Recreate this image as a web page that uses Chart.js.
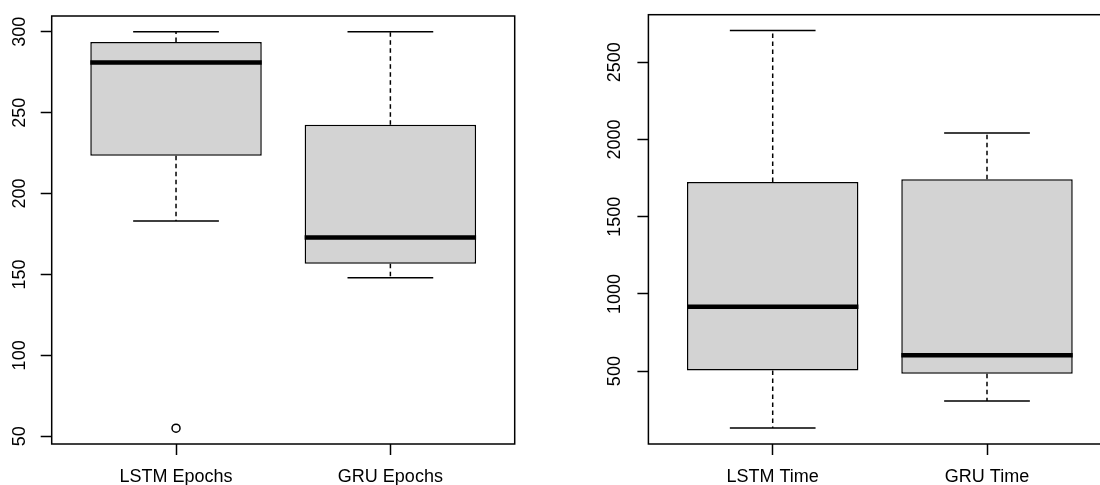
<!DOCTYPE html>
<html>
<head>
<meta charset="utf-8">
<script src="https://cdn.jsdelivr.net/npm/chart.js@4.4.1/dist/chart.umd.min.js"></script>
<style>
  html, body { margin: 0; padding: 0; background: #fff; overflow: hidden; }
  #wrap { position: relative; width: 1100px; height: 485px; overflow: hidden; }
  canvas { position: absolute; top: 0; }
  #epochChart { left: 0; }
  #timeChart { left: 550px; }
</style>
</head>
<body>
<div id="wrap">
  <canvas id="epochChart" width="550" height="485"></canvas>
  <canvas id="timeChart" width="600" height="485"></canvas>
</div>
<script>
// ---- data ----
const EPOCH_LABELS = ["LSTM Epochs", "GRU Epochs"];
const EPOCH_MIN = [183, 148];
const EPOCH_Q1 = [223.4, 156.6];
const EPOCH_MEDIAN = [281, 172.8];
const EPOCH_Q3 = [293.8, 242.5];
const EPOCH_MAX = [300, 300];
const EPOCH_OUTLIERS = [[55], []];
const EPOCH_TICKS = [50, 100, 150, 200, 250, 300];

const TIME_LABELS = ["LSTM Time", "GRU Time"];
const TIME_MIN = [131, 306];
const TIME_Q1 = [504, 483];
const TIME_MEDIAN = [917, 602];
const TIME_Q3 = [1725, 1742];
const TIME_MAX = [2705, 2042];
const TIME_OUTLIERS = [[], []];
const TIME_TICKS = [500, 1000, 1500, 2000, 2500];

// ---- style ----
const FONT = { family: '"Liberation Sans", Arial, Helvetica, sans-serif', size: 18 };
const BOX_FILL = "#d3d3d3";
const INK = "#000000";
const BOX_HALF = 0.4;     // boxwex 0.8
const STAPLE_HALF = 0.2;  // staple is half the box width

// R-style frame around the plot region
const framePlugin = {
  id: "frame",
  afterDatasetsDraw(chart) {
    const { ctx, chartArea: a } = chart;
    ctx.save();
    ctx.strokeStyle = INK;
    ctx.lineWidth = 1.5;
    ctx.strokeRect(a.left, a.top, a.right - a.left, a.bottom - a.top);
    ctx.restore();
  }
};

function buildBoxDatasets(mins, q1s, medians, q3s, maxs, outliers) {
  const boxes = [];
  const whiskers = [];
  const staples = [];
  const medianLines = [];
  const points = [];

  mins.forEach((_, i) => {
    const x = i + 1;
    boxes.push({ x, y: [q1s[i], q3s[i]] });
    whiskers.push(
      { x, y: q3s[i] }, { x, y: maxs[i] }, { x, y: null },
      { x, y: q1s[i] }, { x, y: mins[i] }, { x, y: null }
    );
    staples.push(
      { x: x - STAPLE_HALF, y: maxs[i] }, { x: x + STAPLE_HALF, y: maxs[i] }, { x, y: null },
      { x: x - STAPLE_HALF, y: mins[i] }, { x: x + STAPLE_HALF, y: mins[i] }, { x, y: null }
    );
    medianLines.push(
      { x: x - BOX_HALF, y: medians[i] }, { x: x + BOX_HALF, y: medians[i] }, { x, y: null }
    );
    outliers[i].forEach((v) => points.push({ x, y: v }));
  });

  const lineBase = { type: "line", pointRadius: 0, tension: 0, spanGaps: false, borderColor: INK, order: 1 };

  return [
    {
      type: "bar",
      data: boxes,
      backgroundColor: BOX_FILL,
      borderColor: INK,
      borderWidth: 1.5,
      borderSkipped: false,
      barPercentage: 1,
      categoryPercentage: 2 * BOX_HALF,
      order: 3
    },
    { ...lineBase, data: whiskers, borderWidth: 1.5, borderDash: [4.5, 3.5] },
    { ...lineBase, data: staples, borderWidth: 1.5 },
    { ...lineBase, data: medianLines, borderWidth: 4.5, borderCapStyle: "butt" },
    {
      type: "scatter",
      data: points,
      pointStyle: "circle",
      pointRadius: 4,
      pointBorderWidth: 1.5,
      pointBorderColor: INK,
      pointBackgroundColor: "rgba(0,0,0,0)",
      order: 0
    }
  ];
}

function renderBoxChart(canvasId, labels, mins, q1s, medians, q3s, maxs, outliers, yTicks, geom) {
  // R pads both ranges by 4%
  const allValues = mins.concat(maxs, ...outliers);
  const lo = Math.min(...allValues);
  const hi = Math.max(...allValues);
  const yPad = 0.04 * (hi - lo);
  const xLo = 0.5;
  const xHi = labels.length + 0.5;
  const xPad = 0.04 * (xHi - xLo);

  const tickGrid = {
    offset: false,
    drawOnChartArea: false,
    drawTicks: true,
    tickLength: 11,
    tickColor: INK,
    tickWidth: 1.5
  };

  return new Chart(document.getElementById(canvasId).getContext("2d"), {
    type: "bar",
    data: { datasets: buildBoxDatasets(mins, q1s, medians, q3s, maxs, outliers) },
    plugins: [framePlugin],
    options: {
      responsive: false,
      animation: false,
      events: [],
      layout: { padding: { top: geom.top, right: geom.right, left: 0, bottom: 0 } },
      scales: {
        x: {
          type: "linear",
          offset: false,
          min: xLo - xPad,
          max: xHi + xPad,
          afterBuildTicks: (scale) => { scale.ticks = labels.map((_, i) => ({ value: i + 1 })); },
          afterFit: (scale) => { scale.height = geom.bottom; },
          grid: tickGrid,
          border: { display: false },
          ticks: {
            autoSkip: false,
            maxRotation: 0,
            padding: 11.6,
            color: INK,
            font: FONT,
            callback: (value) => labels[value - 1]
          }
        },
        y: {
          min: lo - yPad,
          max: hi + yPad,
          afterBuildTicks: (scale) => { scale.ticks = yTicks.map((v) => ({ value: v })); },
          afterFit: (scale) => { scale.width = geom.left; },
          grid: tickGrid,
          border: { display: false },
          ticks: {
            autoSkip: false,
            minRotation: 90,
            maxRotation: 90,
            crossAlign: "center",
            padding: geom.tickPad,
            color: INK,
            font: FONT,
            callback: (value) => String(value)
          }
        }
      },
      plugins: {
        legend: { display: false },
        tooltip: { enabled: false }
      }
    }
  });
}

renderBoxChart("epochChart", EPOCH_LABELS, EPOCH_MIN, EPOCH_Q1, EPOCH_MEDIAN, EPOCH_Q3, EPOCH_MAX,
  EPOCH_OUTLIERS, EPOCH_TICKS, { left: 51.7, right: 35.3, top: 14.7, bottom: 41, tickPad: 5.2 });

renderBoxChart("timeChart", TIME_LABELS, TIME_MIN, TIME_Q1, TIME_MEDIAN, TIME_Q3, TIME_MAX,
  TIME_OUTLIERS, TIME_TICKS, { left: 98.4, right: 38.7, top: 14.7, bottom: 41, tickPad: 1.9 });
</script>
</body>
</html>
